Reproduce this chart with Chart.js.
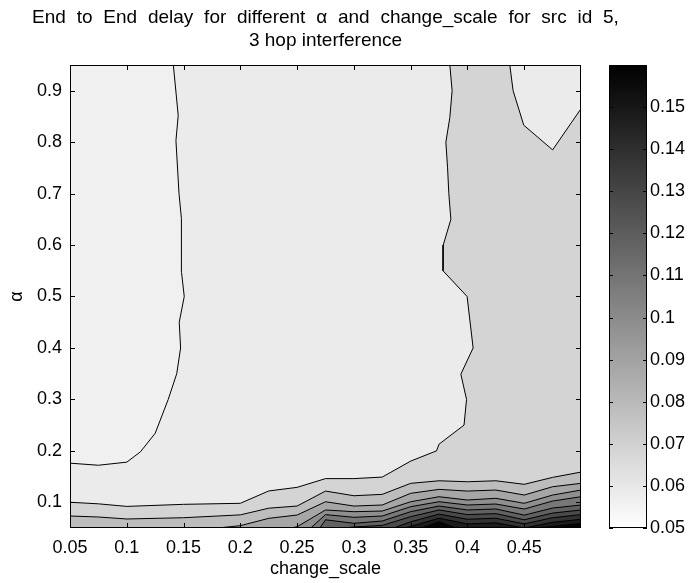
<!DOCTYPE html>
<html>
<head>
<meta charset="utf-8">
<script src="https://cdn.jsdelivr.net/npm/chart.js@4.4.1/dist/chart.umd.min.js"></script>
<style>
  html, body { margin: 0; padding: 0; background: #fff; }
  #wrap { position: relative; width: 691px; height: 583px; }
  #main { position: absolute; left: 0; top: 0; }
  #bar { position: absolute; left: 596px; top: 0; }
</style>
</head>
<body>
<div id="wrap">
  <canvas id="main" width="691" height="583"></canvas>
  <canvas id="bar" width="95" height="583"></canvas>
</div>
<script>
const FONT = "'Liberation Sans', Arial, Helvetica, sans-serif";

// Заголовок
const titleLines = ["End to End delay for different \u03b1 and change_scale for src id 5,", "3 hop interference"];

// Оси и подписи
const xTicks = [0.05, 0.1, 0.15, 0.2, 0.25, 0.3, 0.35, 0.4, 0.45];
const yTicks = [0.1, 0.2, 0.3, 0.4, 0.5, 0.6, 0.7, 0.8, 0.9];
const cbTicks = [0.05, 0.06, 0.07, 0.08, 0.09, 0.1, 0.11, 0.12, 0.13, 0.14, 0.15];
const xRange = [0.05, 0.5];
const yRange = [0.05, 0.95];
const cbRange = [0.05, 0.16];

// Изолинии [change_scale, alpha]
const contour1 = [[0.05, 0.176], [0.075, 0.172], [0.1, 0.178], [0.112, 0.198], [0.125, 0.234], [0.1365, 0.3],
  [0.144, 0.35], [0.1474, 0.4], [0.1462, 0.45], [0.1506, 0.5], [0.1482, 0.547], [0.1481, 0.652],
  [0.146, 0.7], [0.1433, 0.803], [0.1453, 0.852], [0.141, 0.95]];
const contour2 = [[0.3845, 0.95], [0.3865, 0.9], [0.3845, 0.848], [0.381, 0.8], [0.3825, 0.75], [0.3836, 0.7],
  [0.3854, 0.65], [0.3787, 0.6], [0.3785, 0.55], [0.3997, 0.5], [0.405, 0.4], [0.3942, 0.349],
  [0.3992, 0.3], [0.397, 0.25], [0.375, 0.213], [0.3728, 0.2], [0.35, 0.18], [0.325, 0.149],
  [0.3, 0.146], [0.275, 0.146], [0.25, 0.129], [0.225, 0.122], [0.2, 0.098], [0.15, 0.096],
  [0.1, 0.092], [0.075, 0.097], [0.05, 0.1]];
const contour3 = [[0.4373, 0.95], [0.4402, 0.9], [0.4496, 0.833], [0.475, 0.785], [0.5, 0.865]];
const lineB = [[0.05, 0.0733], [0.075, 0.0714], [0.1, 0.0675], [0.15, 0.07], [0.2, 0.0755], [0.225, 0.0885],
  [0.25, 0.0927], [0.275, 0.1218], [0.3, 0.1127], [0.325, 0.1154], [0.35, 0.1368], [0.375, 0.1418],
  [0.4, 0.1399], [0.425, 0.1418], [0.45, 0.1349], [0.475, 0.1484], [0.5, 0.1587]];
const lineC = [[0.18, 0.05], [0.2, 0.0545], [0.225, 0.0688], [0.25, 0.0752], [0.275, 0.101], [0.3, 0.0927],
  [0.325, 0.0947], [0.35, 0.1174], [0.375, 0.1251], [0.4, 0.1218], [0.425, 0.1238], [0.45, 0.1141],
  [0.475, 0.1302], [0.5, 0.1368]];
const lineD = [[0.245, 0.05], [0.25, 0.0525], [0.275, 0.085], [0.3, 0.0817], [0.325, 0.083], [0.35, 0.101],
  [0.375, 0.1108], [0.4, 0.1044], [0.425, 0.1077], [0.45, 0.098], [0.475, 0.114], [0.5, 0.1238]];
const lineE = [[0.262, 0.05], [0.275, 0.076], [0.3, 0.0708], [0.325, 0.0733], [0.35, 0.0914], [0.375, 0.1011],
  [0.4, 0.0947], [0.425, 0.0966], [0.45, 0.0869], [0.475, 0.1024], [0.5, 0.1108]];
const lineF = [[0.27, 0.05], [0.275, 0.066], [0.3, 0.0591], [0.325, 0.0636], [0.35, 0.0817], [0.375, 0.0927],
  [0.4, 0.085], [0.425, 0.087], [0.45, 0.075], [0.475, 0.0888], [0.5, 0.0947]];
const lineG = [[0.29, 0.05], [0.3, 0.052], [0.325, 0.055], [0.35, 0.072], [0.375, 0.085], [0.4, 0.076],
  [0.425, 0.078], [0.45, 0.066], [0.475, 0.079], [0.5, 0.085]];
const lineH = [[0.335, 0.05], [0.35, 0.062], [0.375, 0.077], [0.4, 0.067], [0.425, 0.069], [0.45, 0.058],
  [0.475, 0.07], [0.5, 0.076]];
const lineI = [[0.345, 0.05], [0.35, 0.053], [0.375, 0.069], [0.4, 0.058], [0.425, 0.06], [0.45, 0.05],
  [0.475, 0.061], [0.5, 0.067]];
const lineJ = [[0.36, 0.05], [0.375, 0.062], [0.39, 0.05]];
const lineJ2 = [[0.46, 0.05], [0.475, 0.053], [0.5, 0.059]];

// Цвета полос (от светлой к тёмной)
const bandColors = ["#f0f0f0", "#ebebeb", "#d4d4d4", "#bdbdbd", "#a6a6a6", "#8f8f8f", "#787878",
  "#616161", "#4a4a4a", "#333333", "#1c1c1c", "#050505"];

const [x0, x1] = xRange;
const [y0, y1] = yRange;
const toXY = (arr) => arr.map(([x, y]) => ({ x, y }));

// Области заливки: рисуются по порядку, каждая поверх предыдущей
const bottomLines = [[lineB, 3], [lineC, 4], [lineD, 5], [lineE, 6], [lineF, 7], [lineG, 8],
  [lineH, 9], [lineI, 10], [lineJ, 11], [lineJ2, 11]];
const regions = [
  { pts: [[x0, y0], [x1, y0], [x1, y1], [x0, y1]], band: 1 },
  { pts: [...contour1, [x0, y1]], band: 0 },
  { pts: [...contour2, [x0, y0], [x1, y0], [x1, y1]], band: 2 },
  { pts: [...contour3, [x1, y1]], band: 1 },
  ...bottomLines.map(([line, band]) => ({ pts: [...line, [x1, y0], [line[0][0], y0]], band })),
];
const lines = [contour1, contour2, contour3, ...bottomLines.map((b) => b[0])];

const fillDatasets = regions.map((r) => ({
  data: toXY(r.pts),
  fillColor: bandColors[r.band],
  showLine: false,
  pointRadius: 0,
}));
const lineDatasets = lines.map((l) => ({
  data: toXY(l),
  showLine: true,
  borderColor: "#000",
  borderWidth: 1,
  pointRadius: 0,
  fill: false,
}));

// Заливка полигонов по пикселям точек, посчитанным шкалами
const contourFill = {
  id: "contourFill",
  beforeDatasetsDraw(chart) {
    const { ctx, chartArea: a } = chart;
    ctx.save();
    ctx.beginPath();
    ctx.rect(a.left, a.top, a.width, a.height);
    ctx.clip();
    chart.data.datasets.forEach((ds, i) => {
      if (!ds.fillColor) return;
      const pts = chart.getDatasetMeta(i).data;
      ctx.beginPath();
      pts.forEach((p, j) => (j ? ctx.lineTo(p.x, p.y) : ctx.moveTo(p.x, p.y)));
      ctx.closePath();
      ctx.fillStyle = ds.fillColor;
      ctx.fill();
    });
    ctx.restore();
  },
};

// Рамка и засечки внутрь, как в MATLAB
const axesBox = {
  id: "axesBox",
  afterDraw(chart) {
    const { ctx, chartArea: a, scales } = chart;
    ctx.save();
    ctx.strokeStyle = "#000";
    ctx.lineWidth = 1;
    ctx.beginPath();
    xTicks.forEach((v) => {
      const px = Math.round(scales.x.getPixelForValue(v)) + 0.5;
      ctx.moveTo(px, a.bottom);
      ctx.lineTo(px, a.bottom - 5);
      ctx.moveTo(px, a.top);
      ctx.lineTo(px, a.top + 5);
    });
    yTicks.forEach((v) => {
      const py = Math.round(scales.y.getPixelForValue(v)) + 0.5;
      ctx.moveTo(a.left, py);
      ctx.lineTo(a.left + 5, py);
      ctx.moveTo(a.right, py);
      ctx.lineTo(a.right - 5, py);
    });
    ctx.stroke();
    ctx.strokeRect(a.left + 0.5, a.top + 0.5, a.width - 1, a.height - 1);
    ctx.restore();
  },
};

// Двухстрочный заголовок над областью графика (первая строка с широкими пробелами, как в MATLAB)
const titleBlock = {
  id: "titleBlock",
  afterDraw(chart) {
    const { ctx, chartArea: a } = chart;
    const cx = (a.left + a.right) / 2;
    ctx.save();
    ctx.font = `19px ${FONT}`;
    ctx.fillStyle = "#000";
    ctx.textAlign = "center";
    ctx.textBaseline = "middle";
    titleLines.forEach((t, i) => {
      ctx.wordSpacing = i === 0 ? "5.5px" : "0px";
      ctx.fillText(t, cx, 18 + i * 23);
    });
    ctx.restore();
  },
};

const tickFont = { family: FONT, size: 18 };

new Chart(document.getElementById("main"), {
  type: "scatter",
  data: { datasets: [...fillDatasets, ...lineDatasets] },
  options: {
    responsive: false,
    animation: false,
    events: [],
    layout: { padding: { top: 65, right: 110, left: 0, bottom: 0 } },
    plugins: {
      legend: { display: false },
      tooltip: { enabled: false },
      title: { display: false },
    },
    scales: {
      x: {
        type: "linear",
        min: xRange[0],
        max: xRange[1],
        afterBuildTicks: (s) => { s.ticks = xTicks.map((v) => ({ value: v })); },
        afterFit: (s) => { s.height = 55; },
        grid: { display: false, drawTicks: false },
        border: { display: false },
        ticks: { font: tickFont, color: "#000", padding: 9, maxRotation: 0, autoSkip: false, callback: (v) => String(v) },
        title: { display: true, text: "change_scale", color: "#000", font: tickFont, padding: { top: 0, bottom: 3 } },
      },
      y: {
        type: "linear",
        position: "left",
        min: yRange[0],
        max: yRange[1],
        afterBuildTicks: (s) => { s.ticks = yTicks.map((v) => ({ value: v })); },
        afterFit: (s) => { s.width = 70; },
        grid: { display: false, drawTicks: false },
        border: { display: false },
        ticks: { font: tickFont, color: "#000", padding: 8, autoSkip: false, callback: (v) => String(v) },
        title: { display: true, text: "\u03b1", color: "#000", font: tickFont, padding: { top: 6, bottom: 0 } },
      },
    },
  },
  plugins: [contourFill, axesBox, titleBlock],
});

// Цветовая шкала
const cbFrame = {
  id: "cbFrame",
  afterDraw(chart) {
    const { ctx, chartArea: a, scales } = chart;
    ctx.save();
    ctx.strokeStyle = "#000";
    ctx.lineWidth = 1;
    ctx.beginPath();
    cbTicks.forEach((v) => {
      const py = Math.round(scales.y.getPixelForValue(v)) + 0.5;
      ctx.moveTo(a.left, py);
      ctx.lineTo(a.left + 4, py);
      ctx.moveTo(a.right, py);
      ctx.lineTo(a.right - 4, py);
    });
    ctx.stroke();
    ctx.strokeRect(a.left + 0.5, a.top + 0.5, a.width - 1, a.height - 1);
    ctx.restore();
  },
};

new Chart(document.getElementById("bar"), {
  type: "bar",
  data: {
    labels: ["cb"],
    datasets: [{
      data: [cbRange],
      barPercentage: 1,
      categoryPercentage: 1,
      borderWidth: 0,
      backgroundColor: (c) => {
        const area = c.chart.chartArea;
        if (!area) return "#888";
        const g = c.chart.ctx.createLinearGradient(0, area.bottom, 0, area.top);
        g.addColorStop(0, "#ffffff");
        g.addColorStop(1, "#000000");
        return g;
      },
    }],
  },
  options: {
    responsive: false,
    animation: false,
    events: [],
    layout: { padding: { left: 13, top: 65, bottom: 55, right: 0 } },
    plugins: { legend: { display: false }, tooltip: { enabled: false } },
    scales: {
      x: { display: false },
      y: {
        position: "right",
        min: cbRange[0],
        max: cbRange[1],
        afterBuildTicks: (s) => { s.ticks = cbTicks.map((v) => ({ value: v })); },
        afterFit: (s) => { s.width = 44; },
        grid: { display: false, drawTicks: false },
        border: { display: false },
        ticks: { font: tickFont, color: "#000", padding: 3, autoSkip: false, callback: (v) => String(v) },
      },
    },
  },
  plugins: [cbFrame],
});
</script>
</body>
</html>
